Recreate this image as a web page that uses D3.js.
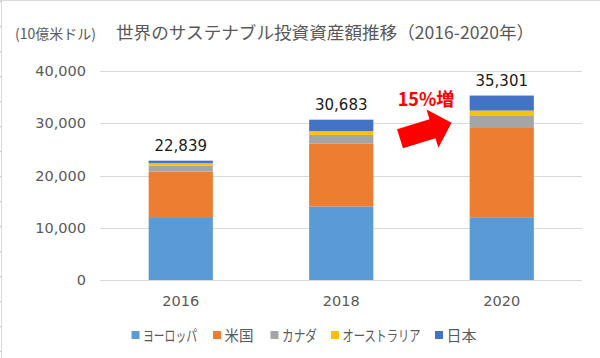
<!DOCTYPE html>
<html><head><meta charset="utf-8">
<script src="https://cdn.jsdelivr.net/npm/d3@7/dist/d3.min.js"></script>
<style>body{margin:0;background:#fff}svg{display:block}</style>
</head><body><svg id="c" width="600" height="358"></svg>
<script>
const years = ["2016", "2018", "2020"];
const seriesNames = ["ヨーロッパ", "米国", "カナダ", "オーストラリア", "日本"];
const europe = [12040, 14075, 12017];
const usa = [8723, 11995, 17081];
const canada = [1086, 1699, 2423];
const australia = [516, 734, 906];
const japan = [474, 2180, 2874];
const totals = [22839, 30683, 35301];
const yTicks = [0, 10000, 20000, 30000, 40000];
const colors = ["#5B9BD5", "#ED7D31", "#A5A5A5", "#FFC000", "#4472C4"];

const svg = d3.select("#c");
const numFont = "'DejaVu Sans', 'Noto Sans CJK JP', sans-serif";
const jpFont = "'Noto Sans CJK JP', sans-serif";

// frame artefacts
svg.append("line").attr("x1",1.5).attr("x2",1.5).attr("y1",0).attr("y2",358).attr("stroke","#d9d9d9");
svg.append("line").attr("x1",0).attr("x2",600).attr("y1",0.5).attr("y2",0.5).attr("stroke","#d9d9d9");
d3.range(1.7, 358, 25).forEach(y => svg.append("line").attr("x1",0).attr("x2",1).attr("y1",y).attr("y2",y).attr("stroke","#bfbfbf"));

const x = d3.scaleBand().domain(years).range([100.5, 582]).paddingInner(0.6).paddingOuter(0.3);
const y = d3.scaleLinear().domain([0, 40000]).range([280, 71]);

// gridlines
svg.append("g").selectAll("line").data(yTicks).join("line")
  .attr("x1", 100).attr("x2", 582)
  .attr("y1", d => Math.round(y(d)) + 0.5).attr("y2", d => Math.round(y(d)) + 0.5)
  .attr("stroke", "#d9d9d9").attr("stroke-width", 1);

// y axis labels
const yAxis = d3.axisLeft(y).tickValues(yTicks).tickFormat(d3.format(",")).tickSize(0).tickPadding(0);
const ya = svg.append("g").attr("transform", "translate(86,0)").call(yAxis);
ya.select(".domain").remove();
ya.selectAll("text").attr("font-family", numFont).attr("font-size", 14.5).attr("fill", "#595959");

// x axis labels
const xAxis = d3.axisBottom(x).tickSize(0).tickPadding(0);
const xa = svg.append("g").attr("transform", "translate(0,296)").call(xAxis);
xa.select(".domain").remove();
xa.selectAll("text").attr("font-family", numFont).attr("font-size", 14.5).attr("fill", "#595959");

// stacked bars
const table = years.map((yr, i) => ({year: yr, s0: europe[i], s1: usa[i], s2: canada[i], s3: australia[i], s4: japan[i]}));
const stack = d3.stack().keys(["s0","s1","s2","s3","s4"])(table);
svg.append("g").selectAll("g").data(stack).join("g")
  .attr("fill", (d, i) => colors[i])
  .selectAll("rect").data(d => d).join("rect")
  .attr("x", d => x(d.data.year))
  .attr("width", x.bandwidth())
  .attr("y", d => y(d[1]))
  .attr("height", d => y(d[0]) - y(d[1]));

// total labels
svg.append("g").selectAll("text").data(totals).join("text")
  .attr("x", (d, i) => x(years[i]) + x.bandwidth() / 2)
  .attr("y", d => y(d) - 10)
  .attr("text-anchor", "middle")
  .attr("font-family", numFont).attr("font-size", 15).attr("fill", "#1a1a1a")
  .text(d3.format(","));

// title
const t = svg.append("text").attr("x", 15).attr("y", 39).attr("fill", "#595959").attr("font-family", jpFont);
t.append("tspan").attr("font-size", 14).text("(10億米ドル)");
t.append("tspan").attr("font-size", 17.6).attr("dx", 20).text("世界のサステナブル投資資産額推移（2016-2020年）");

// annotation arrow
const arrow = svg.append("g").attr("transform", "translate(400,138.8) rotate(-17.3)");
arrow.append("path").attr("d", "M0,-10 L34,-10 L34,-20 L54,0 L34,20 L34,10 L0,10 Z").attr("fill", "#ff0000");
svg.append("text").attr("x", 426).attr("y", 106).attr("text-anchor", "middle")
  .attr("font-family", jpFont).attr("font-weight", "bold").attr("font-size", 18).attr("fill", "#ff0000")
  .text("15%増");

// legend
const legendX = [131.5, 213, 270.5, 331, 435];
const legendW = [54, 29, 35, 78, 30];
const lg = svg.append("g");
seriesNames.forEach((name, i) => {
  const g = lg.append("g").attr("transform", `translate(${legendX[i]},0)`);
  g.append("rect").attr("x", 0).attr("y", 331).attr("width", 8).attr("height", 8).attr("fill", colors[i]);
  g.append("text").attr("x", 11.5).attr("y", 341).attr("font-family", jpFont).attr("font-size", 15)
    .attr("textLength", legendW[i]).attr("lengthAdjust", "spacingAndGlyphs")
    .attr("fill", "#595959").text(name);
});
</script></body></html>
